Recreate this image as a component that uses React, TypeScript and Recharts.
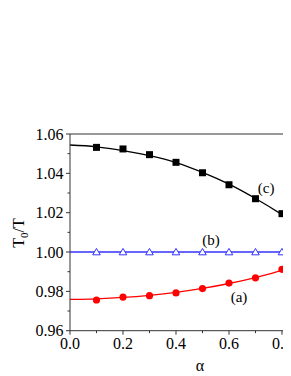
import React from "react";
import { ComposedChart, Line, Scatter, XAxis, YAxis, ReferenceLine, ReferenceDot } from "recharts";

const alpha = [0.1, 0.2, 0.3, 0.4, 0.5, 0.6, 0.7, 0.8];
const seriesA = [0.9756, 0.9771, 0.9778, 0.9792, 0.9814, 0.9842, 0.9869, 0.9912];
const seriesB = [1.0, 1.0, 1.0, 1.0, 1.0, 1.0, 1.0, 1.0];
const seriesC = [1.0532, 1.0524, 1.0495, 1.0456, 1.0403, 1.0342, 1.0271, 1.0195];

const fitAlpha = [0, 0.1, 0.2, 0.3, 0.4, 0.5, 0.6, 0.7, 0.8, 0.834];
const fitA = [0.9759, 0.9762, 0.9769, 0.978, 0.9795, 0.9815, 0.984, 0.987, 0.9908, 0.9925];
const fitB = [1.0, 1.0, 1.0, 1.0, 1.0, 1.0, 1.0, 1.0, 1.0, 1.0];
const fitC = [1.0544, 1.0535, 1.0516, 1.049, 1.0455, 1.0405, 1.0345, 1.0272, 1.019, 1.016];

const yTicks = [0.96, 0.97, 0.98, 0.99, 1.0, 1.01, 1.02, 1.03, 1.04, 1.05, 1.06];
const yLabeled = [0.96, 0.98, 1.0, 1.02, 1.04, 1.06];
const xTicks = [0, 0.1, 0.2, 0.3, 0.4, 0.5, 0.6, 0.7, 0.8];
const xLabeled = [0, 0.2, 0.4, 0.6, 0.8];

const labelA = { x: 0.638, y: 0.9771, text: "(a)" };
const labelB = { x: 0.532, y: 1.0061, text: "(b)" };
const labelC = { x: 0.74, y: 1.0325, text: "(c)" };

const ptsA = alpha.map((x, i) => ({ x, y: seriesA[i] }));
const ptsB = alpha.map((x, i) => ({ x, y: seriesB[i] }));
const ptsC = alpha.map((x, i) => ({ x, y: seriesC[i] }));
const curveA = fitAlpha.map((x, i) => ({ x, y: fitA[i] }));
const curveB = fitAlpha.map((x, i) => ({ x, y: fitB[i] }));
const curveC = fitAlpha.map((x, i) => ({ x, y: fitC[i] }));

const FONT = "Liberation Serif";
const AXIS = "#333";

const near = (arr: number[], v: number) => arr.some((a) => Math.abs(a - v) < 1e-6);

const YTick = (props: any) => {
  const { x, y, payload } = props;
  const major = near(yLabeled, payload.value);
  return (
    <g>
      <line x1={x - (major ? 4 : 2.5)} x2={x} y1={y} y2={y} stroke={AXIS} strokeWidth={1} />
      {major && (
        <text x={x - 6.5} y={y} dy={5.5} textAnchor="end" fontFamily={FONT} fontSize={16} fill="#000">
          {payload.value.toFixed(2)}
        </text>
      )}
    </g>
  );
};

const XTick = (props: any) => {
  const { x, y, payload } = props;
  const major = near(xLabeled, payload.value);
  return (
    <g>
      <line x1={x} x2={x} y1={y} y2={y + (major ? 4 : 2.5)} stroke={AXIS} strokeWidth={1} />
      {major && (
        <text x={x} y={y + 18.5} textAnchor="middle" fontFamily={FONT} fontSize={16} fill="#000">
          {payload.value.toFixed(1)}
        </text>
      )}
    </g>
  );
};

const Square = (p: any) => <rect x={p.cx - 3.5} y={p.cy - 3.5} width={7} height={7} fill="#000" />;
const Dot = (p: any) => <circle cx={p.cx} cy={p.cy} r={3.6} fill="#ff0000" />;
const Tri = (p: any) => (
  <polygon
    points={`${p.cx},${p.cy - 3.6} ${p.cx - 3.8},${p.cy + 2.8} ${p.cx + 3.8},${p.cy + 2.8}`}
    fill="#fff"
    stroke="#3333ff"
    strokeWidth={1}
  />
);

const textLabel = (t: string) => (props: any) => {
  const vb = props.viewBox || {};
  const cx = vb.x + (vb.width || 0) / 2;
  const cy = vb.y + (vb.height || 0) / 2;
  return (
    <text x={cx} y={cy} dy={5} textAnchor="middle" fontFamily={FONT} fontSize={15} fill="#000">
      {t}
    </text>
  );
};

const YLabel = () => (
  <text transform="translate(24,233) rotate(-90)" textAnchor="middle" fontFamily={FONT} fontSize={16} fill="#000">
    <tspan>T</tspan>
    <tspan fontSize={11} dy={4}>0</tspan>
    <tspan dy={-4}>/T</tspan>
  </text>
);

const XLabel = () => (
  <text x={200} y={371} textAnchor="middle" fontFamily={FONT} fontSize={16} fill="#000">
    α
  </text>
);

export default function App() {
  return (
    <div style={{ margin: "-8px 0 0 -8px", width: 291, height: 376, background: "#fff" }}>
      <ComposedChart width={291} height={376} data={curveB} margin={{ top: 134, right: 0, bottom: 0, left: 0 }}>
        <XAxis
          dataKey="x"
          type="number"
          domain={[0, 0.834]}
          ticks={xTicks}
          allowDataOverflow
          height={45.3}
          tickLine={false}
          tickSize={0}
          tickMargin={0}
          tick={<XTick />}
          axisLine={{ stroke: AXIS, strokeWidth: 1 }}
          label={{ content: () => <XLabel /> }}
          interval={0}
        />
        <YAxis
          dataKey="y"
          type="number"
          domain={[0.96, 1.06]}
          ticks={yTicks}
          allowDataOverflow
          width={70}
          tickLine={false}
          tickSize={0}
          tickMargin={0}
          tick={<YTick />}
          axisLine={{ stroke: AXIS, strokeWidth: 1 }}
          label={{ content: () => <YLabel /> }}
          interval={0}
        />
        <ReferenceLine y={1.06} stroke={AXIS} strokeWidth={1} ifOverflow="extendDomain" />
        <Line data={curveC} dataKey="y" type="monotone" stroke="#000" strokeWidth={1.3} dot={false} isAnimationActive={false} />
        <Line data={curveB} dataKey="y" type="monotone" stroke="#3333ff" strokeWidth={1.3} dot={false} isAnimationActive={false} />
        <Line data={curveA} dataKey="y" type="monotone" stroke="#ff0000" strokeWidth={1.3} dot={false} isAnimationActive={false} />
        <Scatter data={ptsC} dataKey="y" shape={Square} isAnimationActive={false} />
        <Scatter data={ptsB} dataKey="y" shape={Tri} isAnimationActive={false} />
        <Scatter data={ptsA} dataKey="y" shape={Dot} isAnimationActive={false} />
        <ReferenceDot x={labelA.x} y={labelA.y} r={0} stroke="none" fill="none" label={{ content: textLabel(labelA.text) }} />
        <ReferenceDot x={labelB.x} y={labelB.y} r={0} stroke="none" fill="none" label={{ content: textLabel(labelB.text) }} />
        <ReferenceDot x={labelC.x} y={labelC.y} r={0} stroke="none" fill="none" label={{ content: textLabel(labelC.text) }} />
      </ComposedChart>
    </div>
  );
}
